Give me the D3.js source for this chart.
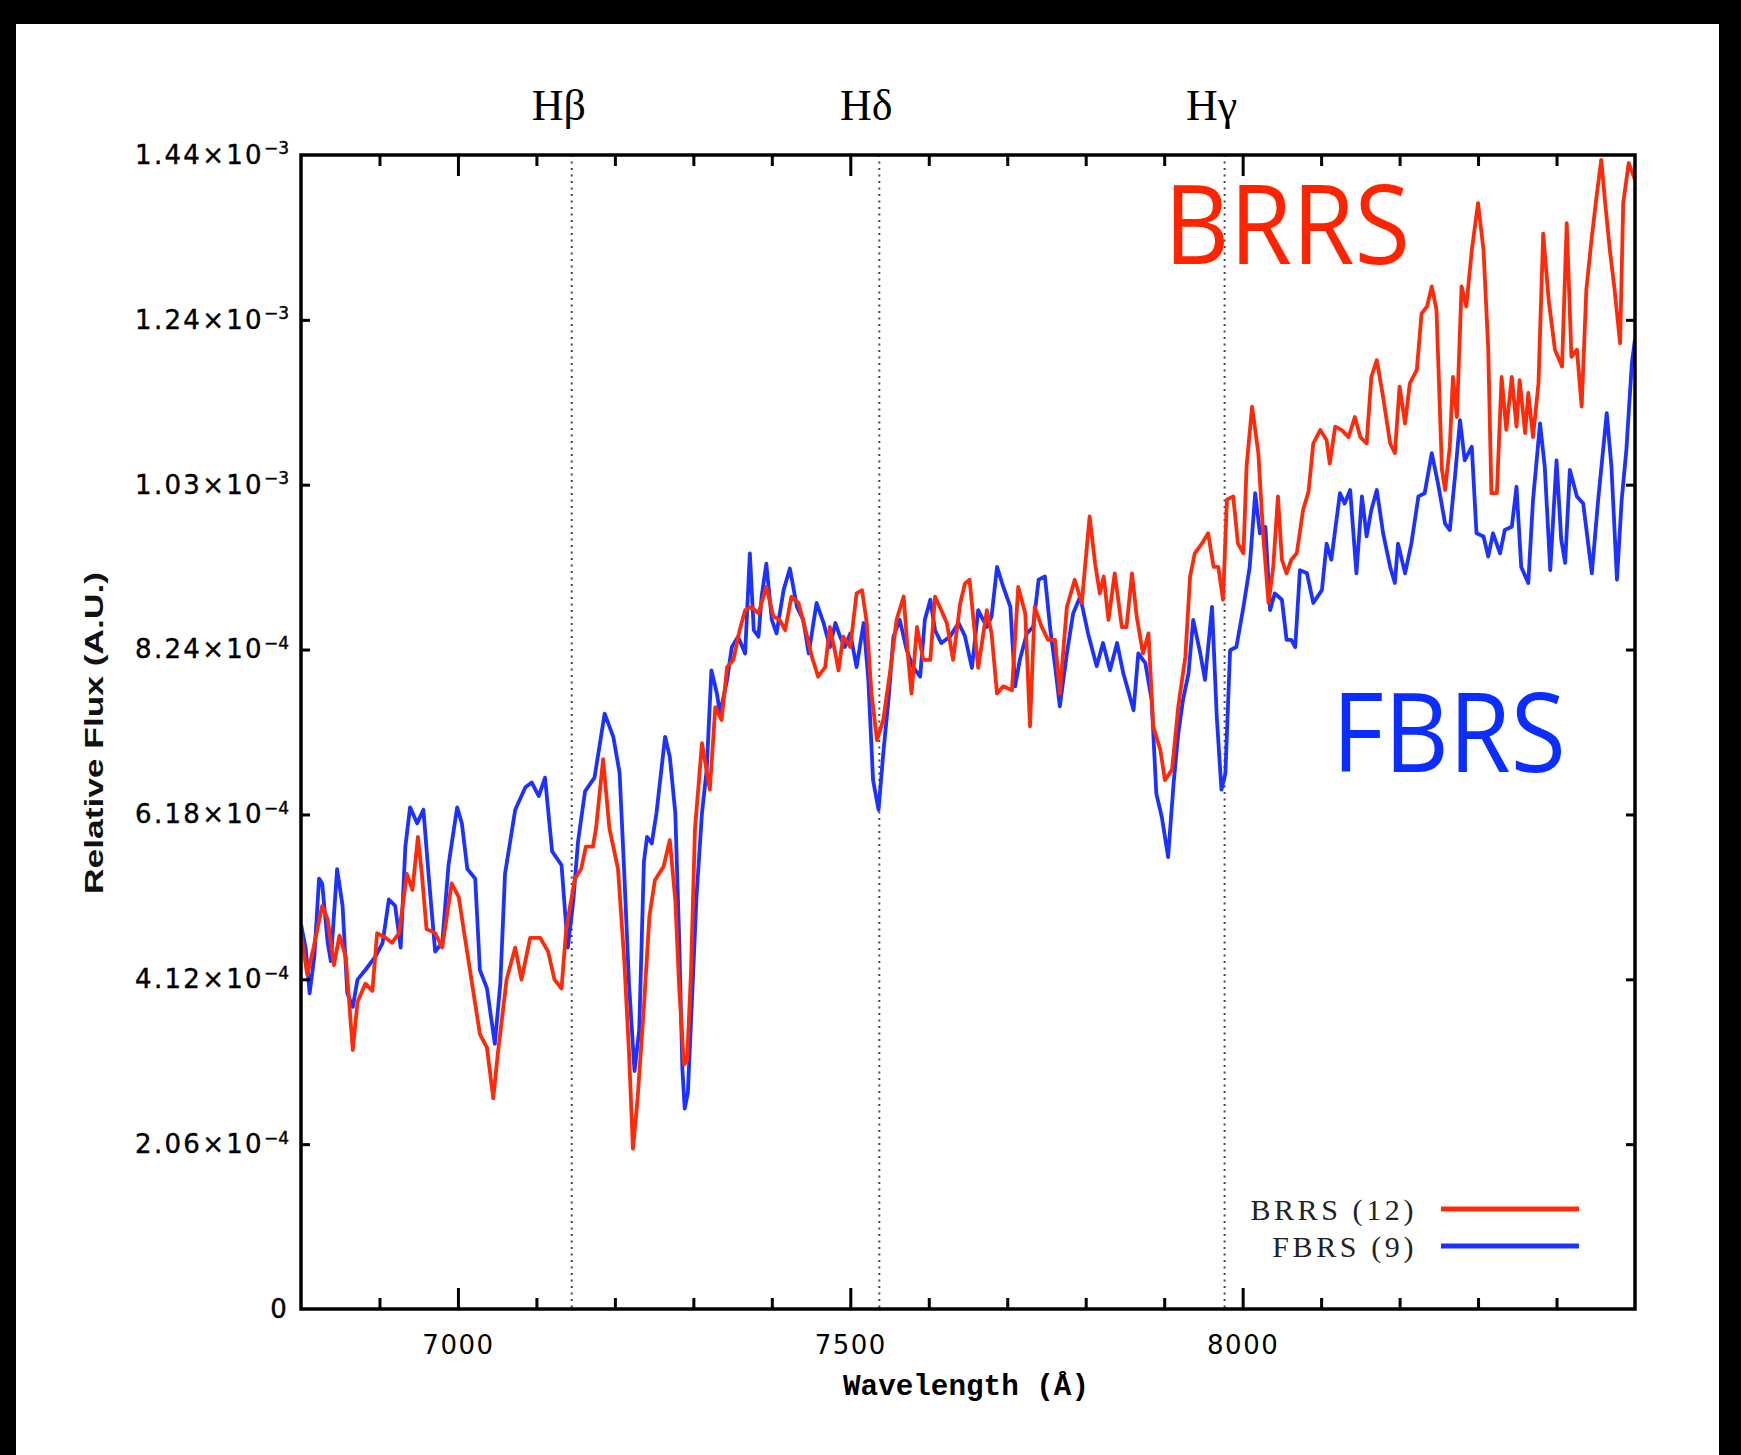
<!DOCTYPE html>
<html>
<head>
<meta charset="utf-8">
<script src="https://cdn.jsdelivr.net/npm/d3@7"></script>
<style>
  body { margin: 0; background: #000; }
  svg { display: block; }
</style>
</head>
<body>
<svg width="1741" height="1455"></svg>
<script>
// flux values in units of 1e-4 (A.U.), wavelength in Angstrom
const brrs = [
  [6800,4.69],[6808,4.17],[6816,4.51],[6827,5.03],[6834,4.86],[6842,4.29],[6849,4.66],[6857,4.40],
  [6866,3.23],[6872,3.83],[6882,4.06],[6891,3.97],[6897,4.69],[6908,4.63],[6916,4.57],[6925,4.69],
  [6935,5.43],[6942,5.23],[6949,5.89],[6954,5.43],[6960,4.74],[6971,4.69],[6980,4.51],[6986,4.91],
  [6992,5.31],[7001,5.14],[7009,4.63],[7018,4.06],[7028,3.43],[7037,3.26],[7045,2.63],[7051,3.20],
  [7062,4.11],[7073,4.51],[7081,4.11],[7092,4.63],[7105,4.63],[7115,4.46],[7123,4.11],[7132,4.00],
  [7138,4.74],[7149,5.37],[7157,5.49],[7163,5.77],[7172,5.77],[7176,6.00],[7185,6.86],[7193,6.00],
  [7204,5.49],[7212,4.34],[7218,3.20],[7223,2.00],[7229,2.63],[7237,3.77],[7244,4.90],[7251,5.35],
  [7262,5.52],[7270,5.85],[7277,5.10],[7282,4.00],[7288,3.05],[7292,3.10],[7297,4.20],[7302,5.98],
  [7311,7.06],[7321,6.48],[7328,7.51],[7336,7.35],[7343,8.01],[7351,8.10],[7359,8.47],[7366,8.72],
  [7374,8.76],[7383,8.68],[7393,9.01],[7402,8.64],[7410,8.60],[7417,8.47],[7425,8.89],[7434,8.81],
  [7442,8.51],[7451,8.14],[7459,7.89],[7468,8.01],[7474,8.51],[7481,8.18],[7485,7.97],[7491,8.39],
  [7500,8.26],[7508,8.93],[7515,8.97],[7521,8.56],[7527,7.68],[7534,7.10],[7542,7.35],[7551,7.97],
  [7559,8.60],[7568,8.89],[7574,8.10],[7578,7.68],[7585,8.51],[7593,8.10],[7602,8.10],[7608,8.89],
  [7616,8.72],[7623,8.56],[7631,8.10],[7640,8.80],[7646,9.05],[7652,9.10],[7657,8.60],[7663,8.00],
  [7674,8.72],[7680,8.43],[7687,7.68],[7695,7.77],[7706,7.72],[7714,9.01],[7723,8.68],[7729,7.27],
  [7735,8.76],[7744,8.51],[7752,8.35],[7761,8.35],[7767,7.68],[7776,8.76],[7786,9.10],[7795,8.81],
  [7805,9.89],[7812,9.30],[7818,8.93],[7823,9.14],[7829,8.60],[7837,9.18],[7846,8.51],[7852,8.51],
  [7859,9.18],[7865,8.64],[7873,8.18],[7880,8.43],[7886,7.27],[7895,6.98],[7901,6.60],[7910,6.73],
  [7918,7.52],[7927,8.14],[7933,9.14],[7939,9.43],[7948,9.55],[7956,9.68],[7963,9.26],[7969,9.26],
  [7975,8.85],[7980,10.10],[7988,10.14],[7994,9.55],[8001,9.43],[8005,10.51],[8012,11.26],[8020,10.68],
  [8026,9.68],[8033,8.81],[8039,9.26],[8045,10.14],[8050,9.35],[8056,9.18],[8062,9.35],[8069,9.43],
  [8077,9.97],[8084,10.20],[8090,10.80],[8099,10.97],[8107,10.84],[8111,10.55],[8118,11.01],[8126,10.97],
  [8135,10.88],[8143,11.13],[8150,10.88],[8158,10.80],[8164,11.63],[8171,11.84],[8179,11.38],[8188,10.80],
  [8194,10.68],[8200,11.51],[8207,11.05],[8213,11.55],[8222,11.72],[8228,12.42],[8235,12.51],[8241,12.76],
  [8247,12.47],[8254,10.47],[8258,10.22],[8264,10.76],[8268,11.63],[8273,11.13],[8279,12.76],[8285,12.51],
  [8292,13.21],[8300,13.80],[8307,13.21],[8313,11.97],[8317,10.18],[8324,10.18],[8330,11.63],[8336,10.97],
  [8343,11.63],[8349,11.01],[8353,11.59],[8360,10.93],[8364,11.43],[8370,10.88],[8377,11.55],[8383,13.42],
  [8390,12.59],[8398,11.97],[8407,11.76],[8413,13.55],[8419,11.88],[8426,11.97],[8432,11.26],[8438,12.72],
  [8445,13.38],[8451,13.88],[8457,14.34],[8462,13.80],[8468,13.21],[8474,12.72],[8481,12.05],[8485,13.80],
  [8492,14.30],[8500,14.09]
];

const fbrs = [
  [6800,4.80],[6806,4.50],[6811,3.94],[6817,4.40],[6823,5.37],[6827,5.31],[6834,4.57],[6838,4.34],
  [6846,5.49],[6853,5.03],[6859,3.94],[6866,3.77],[6872,4.11],[6882,4.23],[6895,4.40],[6904,4.57],
  [6912,5.11],[6920,5.03],[6927,4.51],[6933,5.77],[6939,6.26],[6948,6.06],[6956,6.23],[6963,5.37],
  [6971,4.46],[6980,4.57],[6988,5.54],[6999,6.26],[7005,6.06],[7012,5.49],[7022,5.37],[7028,4.23],
  [7037,4.00],[7047,3.31],[7054,4.06],[7060,5.43],[7073,6.23],[7086,6.51],[7094,6.57],[7103,6.40],
  [7111,6.63],[7120,5.71],[7132,5.54],[7140,4.51],[7147,5.09],[7153,5.83],[7162,6.46],[7174,6.63],
  [7187,7.43],[7198,7.14],[7206,6.69],[7212,5.43],[7218,4.06],[7225,2.97],[7231,3.48],[7237,5.58],
  [7241,5.89],[7247,5.81],[7253,6.19],[7264,7.14],[7270,6.89],[7277,6.19],[7282,4.60],[7286,3.00],
  [7289,2.50],[7293,2.70],[7298,3.80],[7304,5.14],[7311,6.19],[7317,6.73],[7323,7.97],[7330,7.68],
  [7334,7.43],[7343,7.85],[7349,8.26],[7357,8.39],[7366,8.18],[7372,9.43],[7377,8.47],[7383,8.39],
  [7387,8.89],[7393,9.30],[7400,8.60],[7406,8.43],[7415,8.97],[7423,9.24],[7432,8.76],[7440,8.60],
  [7447,8.18],[7457,8.81],[7466,8.56],[7474,8.26],[7481,8.56],[7487,8.39],[7493,8.26],[7500,8.43],
  [7508,8.01],[7517,8.56],[7523,7.85],[7529,6.60],[7536,6.23],[7542,6.93],[7549,7.64],[7555,8.39],
  [7563,8.60],[7572,8.22],[7580,8.01],[7589,7.89],[7595,8.60],[7602,8.85],[7608,8.47],[7616,8.31],
  [7627,8.39],[7638,8.56],[7646,8.40],[7655,8.00],[7663,8.72],[7674,8.51],[7680,8.64],[7687,9.26],
  [7695,9.01],[7704,8.76],[7710,7.77],[7716,8.10],[7725,8.43],[7733,8.51],[7740,9.10],[7748,9.14],
  [7755,8.47],[7761,8.02],[7767,7.52],[7776,8.18],[7784,8.68],[7793,8.89],[7803,8.43],[7814,8.02],
  [7822,8.31],[7831,7.97],[7840,8.31],[7848,7.93],[7854,7.72],[7861,7.47],[7867,8.18],[7876,8.06],
  [7884,7.60],[7890,6.43],[7897,6.14],[7905,5.64],[7912,6.56],[7918,7.18],[7924,7.60],[7931,7.93],
  [7937,8.60],[7946,8.18],[7952,7.85],[7961,8.76],[7967,7.39],[7973,6.48],[7978,6.68],[7984,8.22],
  [7992,8.26],[8001,8.76],[8009,9.26],[8016,10.18],[8022,9.68],[8029,9.76],[8035,8.72],[8041,8.93],
  [8050,8.85],[8056,8.35],[8062,8.35],[8067,8.26],[8073,9.22],[8082,9.18],[8090,8.81],[8101,8.97],
  [8107,9.55],[8113,9.35],[8124,10.18],[8130,10.05],[8137,10.22],[8145,9.18],[8152,10.14],[8158,9.64],
  [8164,9.97],[8171,10.22],[8179,9.68],[8188,9.26],[8194,9.06],[8198,9.55],[8207,9.18],[8215,9.55],
  [8224,10.14],[8232,10.18],[8241,10.68],[8249,10.30],[8258,9.80],[8264,9.72],[8271,10.43],[8277,11.09],
  [8283,10.59],[8292,10.76],[8298,9.68],[8307,9.64],[8313,9.39],[8319,9.68],[8328,9.43],[8334,9.72],
  [8343,9.76],[8349,10.26],[8355,9.26],[8364,9.06],[8370,10.09],[8379,11.05],[8385,10.51],[8392,9.22],
  [8400,10.59],[8406,9.60],[8411,9.31],[8417,10.47],[8426,10.14],[8434,10.05],[8445,9.18],[8453,10.09],
  [8464,11.18],[8470,10.51],[8477,9.10],[8483,10.09],[8489,10.72],[8496,11.80],[8500,12.10]
];

const seriesNames = ["BRRS (12)", "FBRS (9)"];
const bigLabels = ["BRRS", "FBRS"];

const xMajorTicks = [7000, 7500, 8000];
const xMinorTicks = [6900, 7100, 7200, 7300, 7400, 7600, 7700, 7800, 7900, 8100, 8200, 8300, 8400];

const yTicks = [0, 2.057, 4.114, 6.171, 8.229, 10.286, 12.343, 14.4];
const yTickMantissa = ["0", "2.06", "4.12", "6.18", "8.24", "1.03", "1.24", "1.44"];
const yTickExponent = ["", "\u22124", "\u22124", "\u22124", "\u22124", "\u22123", "\u22123", "\u22123"];

const lineWaves = [7145, 7537, 7977];
const lineNames = ["H\u03b2", "H\u03b4", "H\u03b3"];

const red = "#ff2a0a", blue = "#1e32ff";

const svg = d3.select("svg");
const W = 1741, H = 1455;
const plot = {left: 301, right: 1635, top: 155, bottom: 1309};

// black frame with white sheet
svg.append("rect").attr("width", W).attr("height", H).attr("fill", "#000");
svg.append("rect").attr("x", 16).attr("y", 24).attr("width", W - 16 - 22).attr("height", H - 24).attr("fill", "#fff");

const x = d3.scaleLinear().domain([6800, 8500]).range([plot.left, plot.right]);
const y = d3.scaleLinear().domain([0, 14.4]).range([plot.bottom, plot.top]);

// dotted Balmer lines
svg.append("g").selectAll("line").data(lineWaves).join("line")
    .attr("x1", d => x(d)).attr("x2", d => x(d))
    .attr("y1", plot.top).attr("y2", plot.bottom)
    .attr("stroke", "#444").attr("stroke-width", 2)
    .attr("stroke-dasharray", "2,4.5");

svg.append("g").selectAll("text").data(lineWaves).join("text")
    .attr("x", d => x(d) - 13)
    .attr("y", 120)
    .attr("text-anchor", "middle")
    .attr("font-family", "Liberation Serif, serif")
    .attr("font-size", 44)
    .attr("fill", "#000")
    .text((d, i) => lineNames[i]);

// spectra
const line = d3.line().x(d => x(d[0])).y(d => y(d[1]));
svg.append("clipPath").attr("id", "clip").append("rect")
    .attr("x", plot.left).attr("y", plot.top - 2)
    .attr("width", plot.right - plot.left).attr("height", plot.bottom - plot.top + 2);

svg.append("path").datum(fbrs)
    .attr("d", line).attr("fill", "none")
    .attr("stroke", blue).attr("stroke-width", 3.8)
    .attr("stroke-linejoin", "round").attr("clip-path", "url(#clip)");
svg.append("path").datum(brrs)
    .attr("d", line).attr("fill", "none")
    .attr("stroke", red).attr("stroke-width", 3.8)
    .attr("stroke-linejoin", "round").attr("clip-path", "url(#clip)");

// axes, ticks pointing inward on all four sides
function styleAxis(g) {
  g.select(".domain").remove();
  g.selectAll(".tick line").attr("stroke", "#000").attr("stroke-width", 3);
}

svg.append("g").attr("transform", `translate(0,${plot.bottom})`)
    .call(d3.axisBottom(x).tickValues(xMinorTicks).tickSize(-11).tickFormat(""))
    .call(styleAxis);
svg.append("g").attr("transform", `translate(0,${plot.bottom})`)
    .call(d3.axisBottom(x).tickValues(xMajorTicks).tickSize(-21).tickPadding(27).tickFormat(d3.format("d")))
    .call(styleAxis)
    .call(g => g.selectAll(".tick text")
        .attr("font-family", "DejaVu Sans, sans-serif").attr("font-size", 26)
        .attr("letter-spacing", 1.5).attr("fill", "#000"));

svg.append("g").attr("transform", `translate(0,${plot.top})`)
    .call(d3.axisTop(x).tickValues(xMinorTicks).tickSize(-11).tickFormat(""))
    .call(styleAxis);
svg.append("g").attr("transform", `translate(0,${plot.top})`)
    .call(d3.axisTop(x).tickValues(xMajorTicks).tickSize(-21).tickFormat(""))
    .call(styleAxis);

svg.append("g").attr("transform", `translate(${plot.right},0)`)
    .call(d3.axisRight(y).tickValues(yTicks.slice(1, -1)).tickSize(-9).tickFormat(""))
    .call(styleAxis);

const yAxisG = svg.append("g").attr("transform", `translate(${plot.left},0)`)
    .call(d3.axisLeft(y).tickValues(yTicks).tickSize(-9).tickPadding(12))
    .call(styleAxis);
yAxisG.selectAll(".tick line").filter(d => d === 0 || d === 14.4).remove();
yAxisG.selectAll(".tick text").each(function(d, i) {
  const t = d3.select(this).text(null)
      .attr("font-family", "DejaVu Sans, sans-serif").attr("font-size", 26)
      .attr("letter-spacing", 2.3).attr("fill", "#000")
      .attr("stroke", "#000").attr("stroke-width", 0.4);
  t.append("tspan").text(yTickMantissa[i] + (yTickExponent[i] ? "\u00d710" : ""));
  if (yTickExponent[i]) {
    t.append("tspan").attr("dy", "-0.55em").attr("font-size", 17).attr("letter-spacing", 0)
        .text(yTickExponent[i]);
  }
});

// frame
svg.append("rect")
    .attr("x", plot.left).attr("y", plot.top)
    .attr("width", plot.right - plot.left).attr("height", plot.bottom - plot.top)
    .attr("fill", "none").attr("stroke", "#000").attr("stroke-width", 3.5);

// axis titles
svg.append("text")
    .attr("x", 966).attr("y", 1395)
    .attr("text-anchor", "middle")
    .attr("font-family", "Liberation Mono, monospace").attr("font-weight", "bold")
    .attr("font-size", 29).attr("fill", "#000")
    .attr("textLength", 246).attr("lengthAdjust", "spacingAndGlyphs")
    .text("Wavelength (\u00c5)");

svg.append("text")
    .attr("transform", "translate(103,733) rotate(-90)")
    .attr("text-anchor", "middle")
    .attr("font-family", "Liberation Sans, sans-serif").attr("font-weight", "bold")
    .attr("font-size", 26).attr("fill", "#111")
    .attr("textLength", 322).attr("lengthAdjust", "spacingAndGlyphs")
    .text("Relative Flux (A.U.)");

// legend
const legendY = [1209, 1246];
const legendColors = [red, blue];
const legend = svg.append("g");
legend.selectAll("text").data(seriesNames).join("text")
    .attr("x", 1417).attr("y", (d, i) => legendY[i] + 11)
    .attr("text-anchor", "end")
    .attr("font-family", "Liberation Serif, serif").attr("font-size", 30)
    .attr("fill", "#222").attr("letter-spacing", 3.6)
    .text(d => d);
legend.selectAll("line").data(seriesNames).join("line")
    .attr("x1", 1441).attr("x2", 1579)
    .attr("y1", (d, i) => legendY[i]).attr("y2", (d, i) => legendY[i])
    .attr("stroke", (d, i) => legendColors[i]).attr("stroke-width", 5);

// big annotations
const bigPos = [{x: 1164, y: 264, w: 246}, {x: 1332, y: 772, w: 234}];
svg.append("g").selectAll("text").data(bigLabels).join("text")
    .attr("x", (d, i) => bigPos[i].x).attr("y", (d, i) => bigPos[i].y)
    .attr("font-family", "Open Sans, Noto Sans, sans-serif").attr("font-size", 109)
    .attr("fill", (d, i) => i === 0 ? "#ff2400" : "#0b2dff")
    .attr("textLength", (d, i) => bigPos[i].w).attr("lengthAdjust", "spacingAndGlyphs")
    .text(d => d);
</script>
</body>
</html>
